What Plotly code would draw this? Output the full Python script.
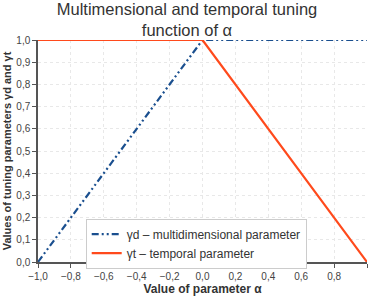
import plotly.graph_objects as go

alpha = [-1.0, 0.0, 1.0]
gamma_d = [0.0, 1.0, 1.0]
gamma_t = [1.0, 1.0, 0.0]
x_ticks = [-1.0, -0.8, -0.6, -0.4, -0.2, 0.0, 0.2, 0.4, 0.6, 0.8, 1.0]
y_ticks = [0.0, 0.1, 0.2, 0.3, 0.4, 0.5, 0.6, 0.7, 0.8, 0.9, 1.0]

fig = go.Figure()
fig.add_trace(go.Scatter(x=alpha, y=gamma_d, mode="lines",
                         name="γd – multidimensional parameter",
                         line=dict(color="#1a4f8f", width=2.2, dash="7px,3px,2px,3px,2px,3px")))
fig.add_trace(go.Scatter(x=alpha, y=gamma_t, mode="lines",
                         name="γt – temporal parameter",
                         line=dict(color="#ff4a1c", width=2.2)))

font = "Liberation Sans, Arial, sans-serif"
fig.update_layout(
    width=374, height=299,
    margin=dict(l=36, r=7, t=40, b=31),
    paper_bgcolor="white", plot_bgcolor="white",
    separators=", ",
    font=dict(family=font, color="#333333", size=10),
    title=dict(text="Multimensional and temporal tuning<br>function of α",
               x=0.5, xanchor="center", y=0.95, yanchor="middle",
               font=dict(size=16.5, color="#333333")),
    showlegend=True,
    legend=dict(x=0.145, y=0.083, xanchor="left", yanchor="middle",
                bgcolor="white", bordercolor="#cccccc", borderwidth=1,
                font=dict(size=12, color="#333333"), tracegroupgap=0),
    xaxis=dict(range=[-1, 1], tickvals=x_ticks, tickformat=".1f",
               showgrid=True, gridcolor="#e8e8e8", griddash="dot",
               showline=True, linecolor="#555555", linewidth=1.5,
               ticks="outside", ticklen=4, tickcolor="#555555",
               zeroline=False, tickfont=dict(size=10, color="#444444"),
               title=dict(text="<b>Value of parameter α</b>", standoff=2,
                          font=dict(size=12, color="#333333"))),
    yaxis=dict(range=[0, 1], tickvals=y_ticks, tickformat=".1f",
               showgrid=True, gridcolor="#e8e8e8", griddash="dot",
               showline=True, linecolor="#555555", linewidth=1.5,
               ticks="outside", ticklen=4, tickcolor="#555555",
               zeroline=False, tickfont=dict(size=10, color="#444444"),
               title=dict(text="<b>Values of tuning parameters γd and γt</b>", standoff=2,
                          font=dict(size=11, color="#333333"))),
)
fig.write_html("out.html", config={"displayModeBar": False},
               post_script="document.body.style.margin='0';document.body.style.overflow='hidden';")
